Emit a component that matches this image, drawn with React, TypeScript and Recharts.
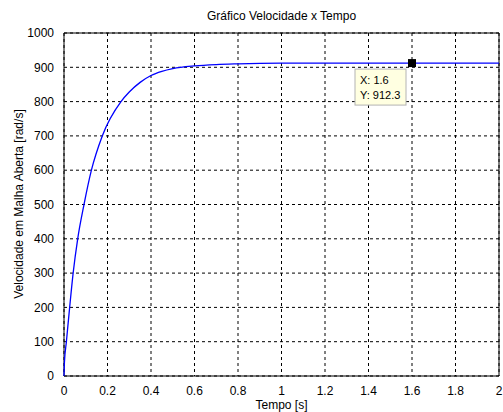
import { FC } from "react";
import {
  LineChart,
  Line,
  XAxis,
  YAxis,
  CartesianGrid,
  ReferenceArea,
  ReferenceDot,
} from "recharts";

// valores
const tempo = [
  0, 0.002, 0.011, 0.026, 0.042, 0.063, 0.092, 0.126, 0.176, 0.262, 0.3, 0.35,
  0.4, 0.45, 0.5, 0.6, 0.7, 0.8, 1.0, 1.2, 1.6, 2.0,
];
const velocidade = [
  0, 40, 100, 200, 300, 400, 500, 600, 700, 800, 828, 856, 876, 888, 896, 904,
  908, 910, 912, 912.3, 912.3, 912.3,
];
const xTicks = [0, 0.2, 0.4, 0.6, 0.8, 1, 1.2, 1.4, 1.6, 1.8, 2];
const yTicks = [0, 100, 200, 300, 400, 500, 600, 700, 800, 900, 1000];
const marcador = { x: 1.6, y: 912.3 };

const dados = tempo.map((t, i) => ({ t, v: velocidade[i] }));

const fonte = "Arial, 'Liberation Sans', sans-serif";

const DataTip = (props: any) => {
  const { cx, cy } = props;
  return (
    <g>
      <rect x={cx - 4} y={cy - 4} width={8} height={8} fill="#000" />
      <rect
        x={cx - 57}
        y={cy + 6}
        width={51}
        height={36}
        fill="#FFFFE1"
        stroke="#B4B4B4"
        strokeWidth={1}
      />
      <text x={cx - 52} y={cy + 21} fontSize={11} fontFamily={fonte} fill="#000">
        {`X: ${marcador.x}`}
      </text>
      <text x={cx - 52} y={cy + 36} fontSize={11} fontFamily={fonte} fill="#000">
        {`Y: ${marcador.y}`}
      </text>
    </g>
  );
};

const App: FC = () => {
  return (
    <div
      style={{
        position: "absolute",
        left: 0,
        top: 0,
        width: 503,
        height: 412,
        background: "#fff",
        fontFamily: fonte,
      }}
    >
      <div
        style={{
          position: "absolute",
          top: 9,
          left: 64,
          width: 435,
          textAlign: "center",
          fontSize: 12,
          color: "#000",
        }}
      >
        Gráfico Velocidade x Tempo
      </div>
      <div
        style={{
          position: "absolute",
          left: 19,
          top: 204,
          width: 300,
          marginLeft: -150,
          textAlign: "center",
          fontSize: 12,
          lineHeight: "14px",
          marginTop: -7,
          transform: "rotate(-90deg)",
          color: "#000",
        }}
      >
        Velocidade em Malha Aberta [rad/s]
      </div>
      <div
        style={{
          position: "absolute",
          top: 398,
          left: 64,
          width: 435,
          textAlign: "center",
          fontSize: 12,
          color: "#000",
        }}
      >
        Tempo [s]
      </div>
      <LineChart
        width={503}
        height={412}
        data={dados}
        margin={{ top: 33, right: 4, bottom: 0, left: 0 }}
        style={{ position: "absolute", left: 0, top: 0 }}
      >
        <CartesianGrid stroke="#000" strokeDasharray="3 3" strokeWidth={1} />
        <XAxis
          dataKey="t"
          type="number"
          domain={[0, 2]}
          ticks={xTicks}
          height={36}
          axisLine={false}
          tickLine={false}
          tickMargin={4}
          tick={{ fontSize: 12, fill: "#000", fontFamily: fonte }}
          interval={0}
        />
        <YAxis
          type="number"
          domain={[0, 1000]}
          ticks={yTicks}
          width={64}
          axisLine={false}
          tickLine={false}
          tickMargin={4}
          tick={{ fontSize: 12, fill: "#000", fontFamily: fonte }}
          interval={0}
        />
        <ReferenceArea
          x1={0}
          x2={2}
          y1={0}
          y2={1000}
          fill="none"
          stroke="#000"
          strokeWidth={1}
          fillOpacity={0}
        />
        <Line
          type="monotone"
          dataKey="v"
          stroke="#0000FF"
          strokeWidth={1.3}
          dot={false}
          isAnimationActive={false}
        />
        <ReferenceDot x={marcador.x} y={marcador.y} shape={DataTip} />
      </LineChart>
    </div>
  );
};

export default App;
